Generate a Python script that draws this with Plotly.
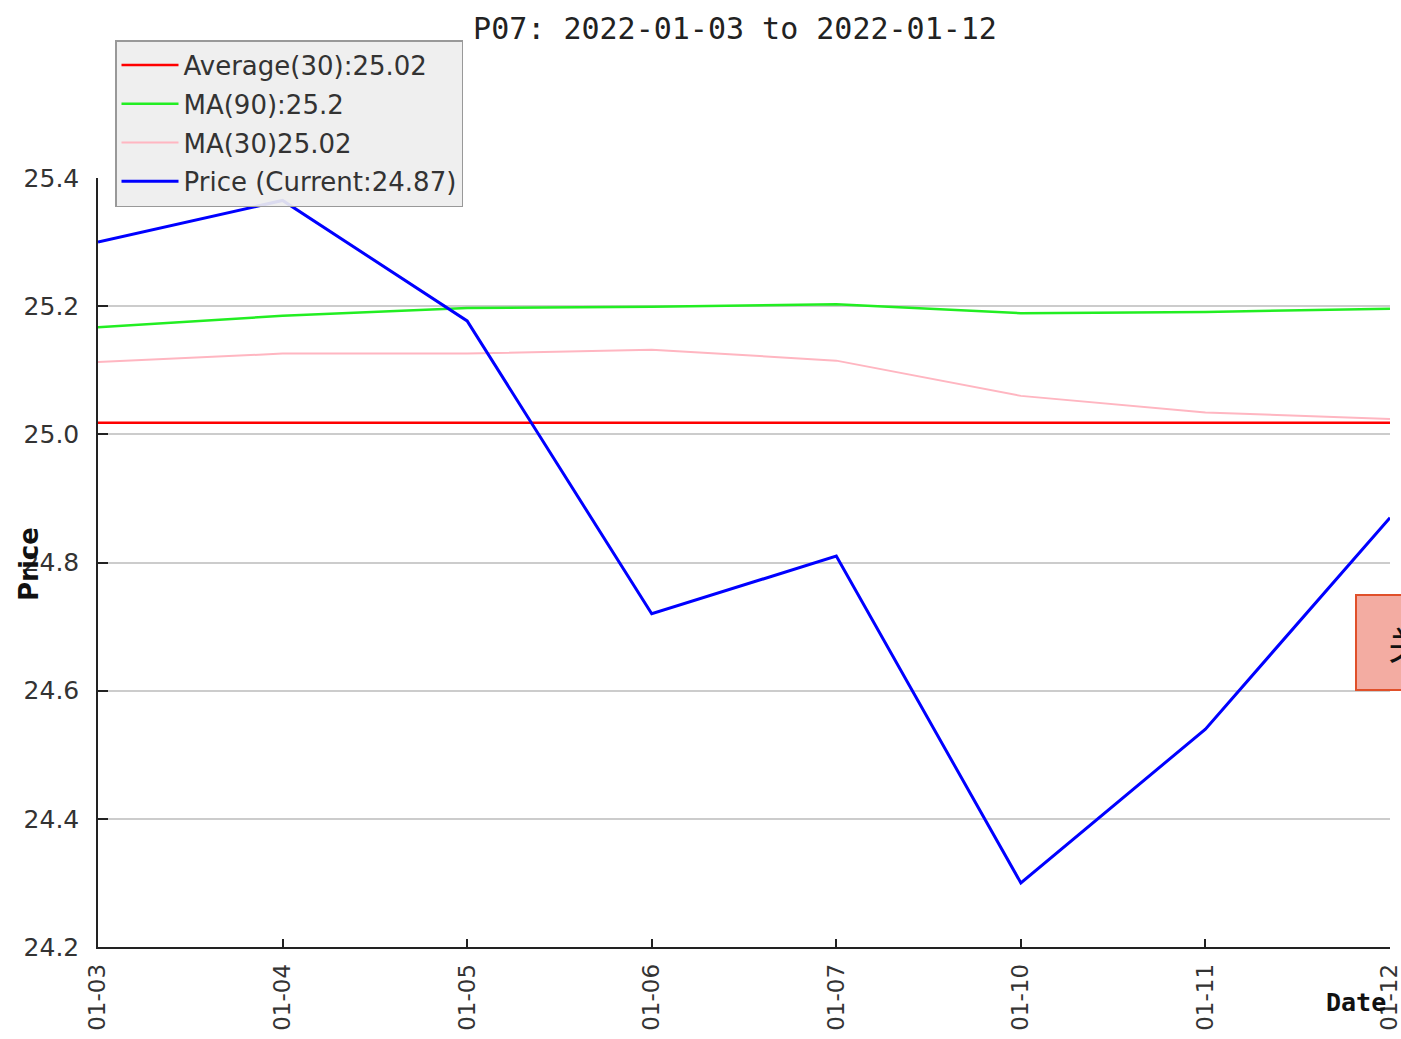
import plotly.graph_objects as go

dates = ["01-03", "01-04", "01-05", "01-06", "01-07", "01-10", "01-11", "01-12"]
price = [25.30, 25.365, 25.177, 24.72, 24.81, 24.30, 24.54, 24.87]
ma90 = [25.167, 25.185, 25.197, 25.199, 25.203, 25.189, 25.191, 25.196]
ma30 = [25.113, 25.126, 25.126, 25.132, 25.115, 25.060, 25.034, 25.024]
average30 = [25.018] * len(dates)

names = ["Average(30):25.02", "MA(90):25.2", "MA(30)25.02", "Price (Current:24.87)"]
y_ticks = [24.2, 24.4, 24.6, 24.8, 25.0, 25.2, 25.4]
title_text = "P07: 2022-01-03 to 2022-01-12"

W, H = 1401, 1039
L, R, T, B = 98, 11, 178, 92
pw, ph = W - L - R, H - T - B

def px_x(p):
    return (p - L) / pw

def px_y(p):
    return (H - B - p) / ph

fig = go.Figure()
series = [
    (average30, "#ff0000", 2.5),
    (ma90, "#22ee22", 2.5),
    (ma30, "#ffb6c1", 2),
    (price, "#0000ff", 3),
]
for i, ((vals, col, w), nm) in enumerate(zip(series, names)):
    fig.add_trace(go.Scatter(x=dates, y=vals, mode="lines", name=nm,
                             line=dict(color=col, width=w),
                             legendgroup=f"g{i}"))

y_tick_font = dict(family="DejaVu Sans", size=25, color="#333333")
x_tick_font = dict(family="DejaVu Sans", size=23, color="#333333")

fig.update_layout(
    width=W, height=H,
    margin=dict(l=L, r=R, t=T, b=B, pad=0, autoexpand=False),
    paper_bgcolor="white", plot_bgcolor="white",
    title=dict(text=title_text, x=735 / W, xanchor="center", xref="container",
               y=1 - 28 / H, yanchor="middle",
               font=dict(family="DejaVu Sans Mono", size=30, color="#222222")),
    showlegend=True,
    legend=dict(x=px_x(115), y=px_y(40), xanchor="left", yanchor="top",
                bgcolor="rgba(238,238,238,0.92)", bordercolor="#999999", borderwidth=1.5,
                font=dict(family="DejaVu Sans", size=26, color="#333333"),
                tracegroupgap=2, itemwidth=57),
    xaxis=dict(type="category", range=[0, len(dates) - 1], showgrid=False,
               showline=True, linecolor="#222222", linewidth=1.5,
               ticks="inside", ticklen=8, tickcolor="#222222", tickwidth=1.5,
               tickangle=-90, tickfont=x_tick_font, ticklabelstandoff=6,
               zeroline=False, automargin=False),
    yaxis=dict(range=[y_ticks[0], y_ticks[-1]], tickvals=y_ticks, tickformat=".1f",
               showgrid=True, gridcolor="#cccccc", gridwidth=1.5,
               showline=True, linecolor="#222222", linewidth=1.5,
               ticks="inside", ticklen=10, tickcolor="#222222", tickwidth=1.5,
               tickfont=y_tick_font, ticklabelstandoff=12, zeroline=False,
               automargin=False),
)

fig.add_annotation(text="<b>Date</b>", x=px_x(1356), y=px_y(1002), xref="paper", yref="paper",
                   xanchor="center", yanchor="middle", showarrow=False,
                   font=dict(family="DejaVu Sans Mono", size=25, color="#111111"))
fig.add_annotation(text="<b>Price</b>", x=px_x(29), y=px_y(564), xref="paper", yref="paper",
                   xanchor="center", yanchor="middle", showarrow=False, textangle=-90,
                   font=dict(family="DejaVu Sans", size=26, color="#111111"))

fig.add_shape(type="rect", xref="paper", yref="paper",
              x0=px_x(1356), x1=px_x(1402), y0=px_y(690), y1=px_y(595),
              fillcolor="#f3aca2", line=dict(color="#e0502a", width=2), layer="above")
fig.add_annotation(text="关", x=px_x(1386), y=px_y(642), xref="paper", yref="paper",
                   xanchor="left", yanchor="middle", showarrow=False,
                   font=dict(family="Noto Sans CJK SC", size=38, color="#111111"))

fig.write_html("out.html", config={"displayModeBar": False},
               post_script="document.body.style.margin='0';document.body.style.overflow='hidden';")
